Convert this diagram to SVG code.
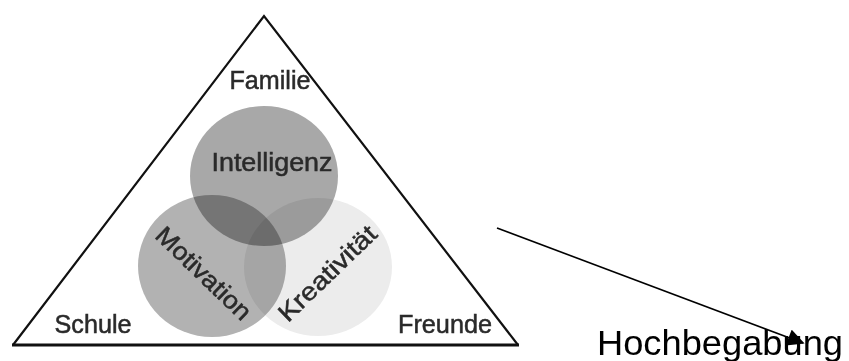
<svg xmlns="http://www.w3.org/2000/svg" width="849" height="361" viewBox="0 0 849 361">
<style>
.lbl{font-family:"Liberation Sans",Arial,sans-serif;font-size:25px;fill:#2a2a2a;stroke:#2a2a2a;stroke-width:0.5;text-anchor:middle}
.c{mix-blend-mode:multiply}
.edge{stroke:#000;stroke-width:1.6;fill:none}
</style>
<defs>
<marker id="arr" viewBox="0 0 10 10" refX="9" refY="5" markerWidth="19" markerHeight="17" markerUnits="userSpaceOnUse" orient="auto">
<path d="M0,0 L10,5 L0,10 z" fill="#000"/>
</marker>
</defs>
<rect width="849" height="361" fill="#fff"/>
<g id="triangle">
<path d="M13,345 L264,16 L518,345" fill="none" stroke="#111" stroke-width="2.2" stroke-linejoin="miter"/>
<line x1="12" y1="345" x2="519" y2="345" stroke="#111" stroke-width="3"/>
</g>
<g id="circles" style="isolation:isolate">
<g id="intelligenz"><ellipse class="c" cx="264" cy="176" rx="74" ry="70" fill="#a8a8a8"/></g>
<g id="motivation"><ellipse class="c" cx="212" cy="266" rx="74" ry="71" fill="#b2b2b2"/></g>
<g id="kreativitaet"><ellipse class="c" cx="318" cy="267" rx="74" ry="69" fill="#ececec"/></g>
</g>
<g id="labels">
<text class="lbl" x="270" y="89" textLength="81" lengthAdjust="spacingAndGlyphs">Familie</text>
<text class="lbl" x="272" y="171" textLength="121" lengthAdjust="spacingAndGlyphs">Intelligenz</text>
<text class="lbl" x="93" y="333" textLength="77" lengthAdjust="spacingAndGlyphs">Schule</text>
<text class="lbl" x="445" y="333" textLength="94" lengthAdjust="spacingAndGlyphs">Freunde</text>
<text class="lbl" transform="translate(204,273) rotate(44)" x="0" y="9" textLength="122" lengthAdjust="spacingAndGlyphs">Motivation</text>
<text class="lbl" transform="translate(327,273) rotate(-44)" x="0" y="9" textLength="126" lengthAdjust="spacingAndGlyphs">Kreativität</text>
</g>
<g id="connectors">
<line class="edge" x1="497" y1="228" x2="803" y2="343" marker-end="url(#arr)"/>
</g>
<g id="hochbegabung">
<text x="597" y="355" font-family="'Liberation Sans',Arial,sans-serif" font-size="35" fill="#000" textLength="246" lengthAdjust="spacingAndGlyphs">Hochbegabung</text>
</g>
</svg>
